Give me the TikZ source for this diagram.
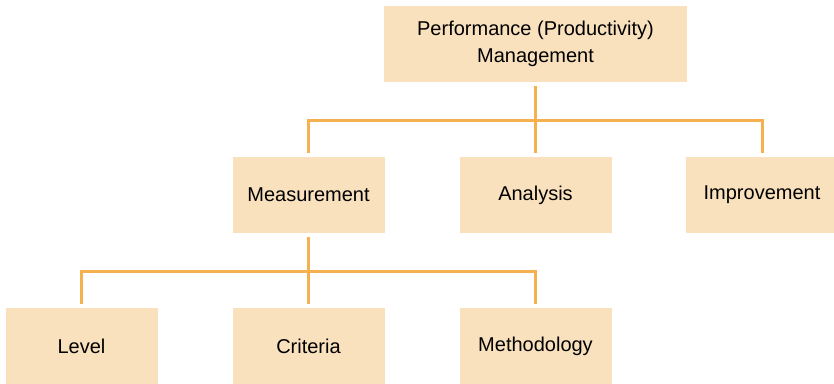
\documentclass[tikz,border=0pt]{standalone}
\usepackage{fontspec}
\setmainfont{Liberation Sans}
\definecolor{boxfill}{HTML}{F9E1BE}
\definecolor{linecol}{HTML}{F5B04F}
\begin{document}
\begin{tikzpicture}[x=1pt,y=-1pt,
  box/.style={rectangle,fill=boxfill,minimum width=152pt,minimum height=76pt,inner sep=0pt,
    font=\fontsize{20}{27}\selectfont,align=center},
  conn/.style={draw=linecol,line width=3pt}]
\useasboundingbox (0,0) rectangle (834,383);
\node[box,minimum width=303pt] (top) at (535.5,44) {Performance (Productivity)\\Management};
\node[box] (meas) at (308.5,195) {Measurement};
\node[box] (anal) at (535.5,195) {Analysis};
\node[box] (impr) at (762,195) {Improvement};
\node[box] (level) at (81.5,346) {Level};
\node[box] (crit) at (308.5,346) {Criteria};
\node[box] (meth) at (535.5,346) {Methodology};
\coordinate (j1) at (535.5,120.5);
\coordinate (j2) at (308.5,271.5);
\draw[conn] ([yshift=-4pt]top.south) -- ([yshift=4pt]anal.north);
\draw[conn] ([yshift=4pt]meas.north) -- (meas.north |- j1) -- (impr.north |- j1) -- ([yshift=4pt]impr.north);
\draw[conn] ([yshift=-4pt]meas.south) -- ([yshift=4pt]crit.north);
\draw[conn] ([yshift=4pt]level.north) -- (level.north |- j2) -- (meth.north |- j2) -- ([yshift=4pt]meth.north);
\end{tikzpicture}
\end{document}
